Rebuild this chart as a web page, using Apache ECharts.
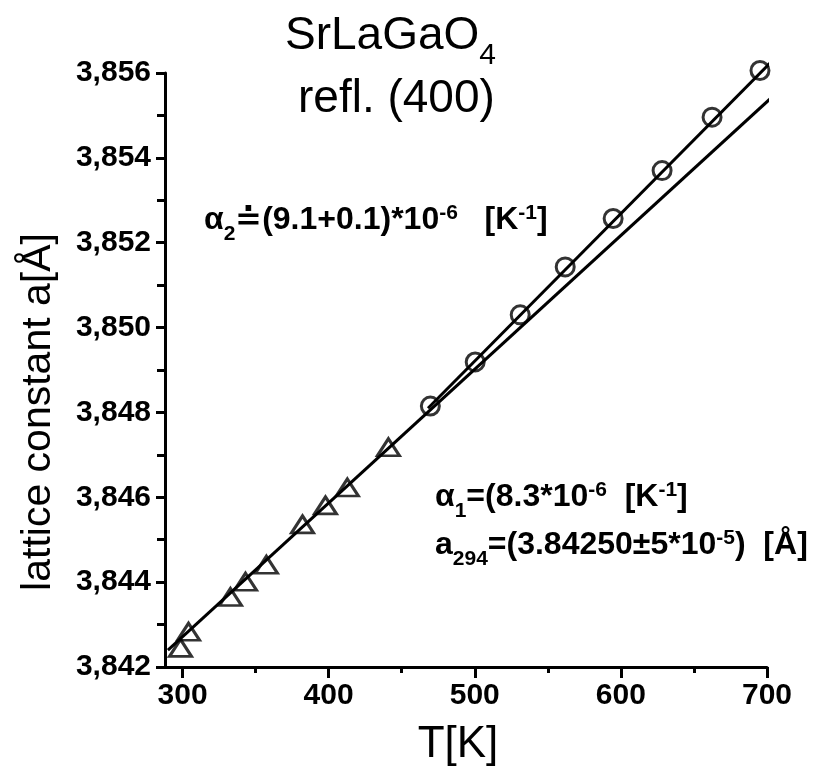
<!DOCTYPE html>
<html>
<head>
<meta charset="utf-8">
<title>SrLaGaO4 refl. (400)</title>
<script src="https://cdn.jsdelivr.net/npm/echarts@6.0.0/dist/echarts.min.js"></script>
<style>
  html, body { margin: 0; padding: 0; background: #fff; }
  #container { width: 813px; height: 775px; }
</style>
</head>
<body>
<div id="container"></div>
<script>
// measured points: triangles (alpha1 range) and circles (alpha2 range)
var triT = [298.6, 304.1, 332.8, 343.1, 357.4, 382.1, 397.8, 412.8, 440.9];
var triA = [3.84245, 3.84283, 3.84365, 3.84401, 3.84441, 3.84536, 3.84581, 3.84623, 3.84718];
var circT = [469.6, 500.3, 531.1, 561.9, 594.7, 628.2, 662.4, 695.2];
var circA = [3.84815, 3.84919, 3.8503, 3.85143, 3.85257, 3.8537, 3.85496, 3.85606];

// fit lines (end points)
var fit1T = [290, 704];
var fit1A = [3.8424, 3.85545];
var fit2T = [468, 704];
var fit2A = [3.8481, 3.8563];

// axis ticks
var xLabels = [300, 400, 500, 600, 700];
var xMinor = [350, 450, 550, 650];

var FONT = 'Liberation Sans, Arial, DejaVu Sans, sans-serif';

function zip(a, b) {
    var out = [];
    for (var i = 0; i < a.length; i++) out.push([a[i], b[i]]);
    return out;
}

var dom = document.getElementById('container');
var myChart = echarts.init(dom);

// rich text styles for formulas
var rich = {
    n: { fontSize: 32, fontWeight: 'bold', fontFamily: FONT, color: '#000', lineHeight: 32, verticalAlign: 'bottom', padding: [0, 0, 9, 0] },
    s: { fontSize: 21, fontWeight: 'bold', fontFamily: FONT, color: '#000', lineHeight: 22, verticalAlign: 'bottom' },
    p: { fontSize: 21, fontWeight: 'bold', fontFamily: FONT, color: '#000', lineHeight: 22, verticalAlign: 'bottom', padding: [0, 0, 21, 0] }
};
var richTitle = {
    n: { fontSize: 46, fontFamily: FONT, color: '#000', lineHeight: 46, verticalAlign: 'bottom', padding: [0, 0, 12, 0] },
    s: { fontSize: 30, fontFamily: FONT, color: '#000', lineHeight: 30, verticalAlign: 'bottom' }
};

var option = {
    backgroundColor: '#FFFFFF',
    animation: false,
    grid: { left: 165, right: 46, top: 73, bottom: 108 },
    xAxis: [
        {
            type: 'value',
            min: 288,
            max: 700,
            name: 'T[K]',
            nameLocation: 'middle',
            nameGap: 56,
            nameTextStyle: { fontSize: 44, fontFamily: FONT, color: '#000', padding: [0, 16, 0, 0] },
            axisLine: { lineStyle: { color: '#000', width: 3 } },
            axisTick: { customValues: xLabels, length: 11, lineStyle: { color: '#000', width: 3 } },
            axisLabel: { customValues: xLabels, fontSize: 30, fontWeight: 'bold', fontFamily: FONT, color: '#000', margin: 14 },
            splitLine: { show: false }
        },
        {
            type: 'value',
            min: 288,
            max: 700,
            position: 'bottom',
            axisLine: { show: false },
            axisTick: { customValues: xMinor, length: 6, lineStyle: { color: '#000', width: 3 } },
            axisLabel: { show: false },
            splitLine: { show: false }
        }
    ],
    yAxis: {
        type: 'value',
        min: 3.842,
        max: 3.856,
        interval: 0.002,
        name: 'lattice constant a[Å]',
        nameLocation: 'middle',
        nameGap: 106,
        nameTextStyle: { fontSize: 41, fontFamily: FONT, color: '#000', padding: [0, 84, 0, 0] },
        axisLine: { lineStyle: { color: '#000', width: 3 } },
        axisTick: { length: 9, lineStyle: { color: '#000', width: 3 } },
        minorTick: { show: true, splitNumber: 2, length: 8, lineStyle: { color: '#000', width: 3 } },
        axisLabel: {
            fontSize: 30, fontWeight: 'bold', fontFamily: FONT, color: '#000', margin: 14,
            formatter: function (v) { return v.toFixed(3).replace('.', ','); }
        },
        splitLine: { show: false }
    },
    graphic: [
        { type: 'text', left: 285, top: 13, style: { text: '{n|SrLaGaO}{s|4}', rich: richTitle } },
        { type: 'text', left: 298, top: 76, style: { text: '{n|refl. (400)}', rich: richTitle } },
        { type: 'text', left: 204, top: 203, style: { text: '{n|α}{s|2}{n|≐(9.1+0.1)*10}{p|-6}{n|   [K}{p|-1}{n|]}', rich: rich } },
        { type: 'text', left: 435, top: 480, style: { text: '{n|α}{s|1}{n|=(8.3*10}{p|-6}{n|  [K}{p|-1}{n|]}', rich: rich } },
        { type: 'text', left: 435, top: 528, style: { text: '{n|a}{s|294}{n|=(3.84250±5*10}{p|-5}{n|)  [Å]}', rich: rich } }
    ],
    series: [
        {
            name: 'fit α1',
            type: 'line',
            data: zip(fit1T, fit1A),
            showSymbol: false,
            clip: false,
            lineStyle: { color: '#000', width: 3 },
            z: 2
        },
        {
            name: 'fit α2',
            type: 'line',
            data: zip(fit2T, fit2A),
            showSymbol: false,
            clip: false,
            lineStyle: { color: '#000', width: 3 },
            z: 2
        },
        {
            name: 'triangles',
            type: 'scatter',
            data: zip(triT, triA),
            symbol: 'triangle',
            symbolSize: [22, 17],
            clip: false,
            itemStyle: { color: 'rgba(0,0,0,0)', borderColor: '#000', borderWidth: 3 },
            z: 3
        },
        {
            name: 'circles',
            type: 'scatter',
            data: zip(circT, circA),
            symbol: 'circle',
            symbolSize: 18,
            clip: false,
            itemStyle: { color: 'rgba(0,0,0,0)', borderColor: '#000', borderWidth: 3 },
            z: 3
        }
    ]
};

if (option && typeof option === 'object') {
    myChart.setOption(option, true);
    window.onresize = function () {
        myChart.resize();
    };
}
</script>
</body>
</html>
